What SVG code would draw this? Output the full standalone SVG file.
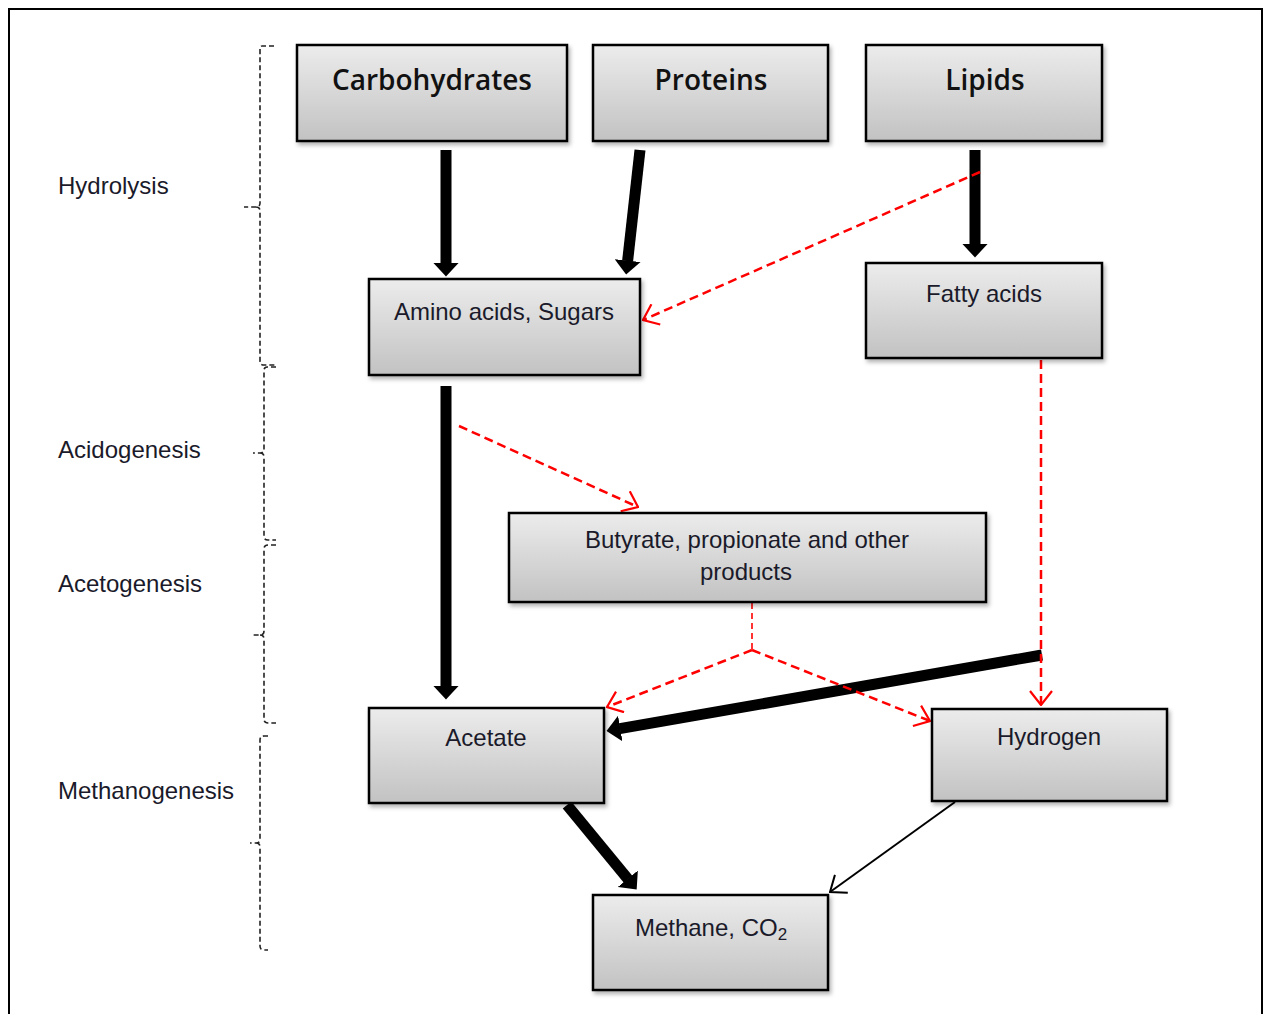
<svg xmlns="http://www.w3.org/2000/svg" width="1264" height="1014" viewBox="0 0 1264 1014">
<defs>
<linearGradient id="g" x1="0" y1="0" x2="0" y2="1">
<stop offset="0" stop-color="#ececec"/>
<stop offset="1" stop-color="#c2c2c2"/>
</linearGradient>
<filter id="sh" x="-10%" y="-10%" width="130%" height="130%">
<feDropShadow dx="2" dy="3" stdDeviation="2" flood-color="#000" flood-opacity="0.3"/>
</filter>
<marker id="blk" markerUnits="userSpaceOnUse" viewBox="0 0 14 26" refX="0.5" refY="13" markerWidth="14" markerHeight="26" orient="auto">
<path d="M0,0 L14,13 L0,26 Z" fill="#000"/>
</marker>
<marker id="red" markerUnits="userSpaceOnUse" viewBox="0 0 16 24" refX="15" refY="12" markerWidth="16" markerHeight="24" orient="auto">
<path d="M1,1 L15,12 L1,23" fill="none" stroke="#ff0000" stroke-width="2.2"/>
</marker>
<marker id="thin" markerUnits="userSpaceOnUse" viewBox="0 0 16 24" refX="15" refY="12" markerWidth="16" markerHeight="24" orient="auto">
<path d="M1,1 L15,12 L1,23" fill="none" stroke="#000" stroke-width="2"/>
</marker>
</defs>
<style>
.box{fill:url(#g);stroke:#000;stroke-width:2.5;filter:url(#sh)}
.big{font-family:"Open Sans","Noto Sans",sans-serif;font-size:28px;font-weight:600;fill:#111;text-anchor:middle}
.t{font-family:"Liberation Sans",Arial,sans-serif;font-size:24px;fill:#1a1a2a;text-anchor:middle}
.lab{font-family:"Liberation Sans",Arial,sans-serif;font-size:24px;fill:#1a1a2a}
.brace{fill:none;stroke:#222;stroke-width:1.6;stroke-dasharray:5,3}
.thick{stroke:#000;stroke-width:11;fill:none}
.dash{stroke:#ff0000;stroke-width:2.5;stroke-dasharray:9,5;fill:none}
</style>
<rect x="0" y="0" width="1264" height="1014" fill="#fff"/>
<path d="M9,1020 L9,9 L1262,9 L1262,1020" fill="none" stroke="#000" stroke-width="2"/>

<g id="labels">
<text class="lab" x="58" y="194">Hydrolysis</text>
<text class="lab" x="58" y="458">Acidogenesis</text>
<text class="lab" x="58" y="592">Acetogenesis</text>
<text class="lab" x="58" y="799">Methanogenesis</text>
</g>

<g id="braces">
<path class="brace" d="M274,46 L262,46 Q260,46 260,50 L260,203 Q260,207 256,207 L244,207 M256,207 Q260,207 260,211 L260,361 Q260,365 264,365 L276,365"/>
<path class="brace" d="M276,367 L267,367 Q264,367 264,371 L264,449 Q264,453 260,453 L253,453 M260,453 Q264,453 264,457 L264,536 Q264,540 268,540 L276,540"/>
<path class="brace" d="M276,545 L268,545 Q264,545 264,549 L264,631 Q264,635 260,635 L253,635 M260,635 Q264,635 264,639 L264,719 Q264,723 268,723 L276,723"/>
<path class="brace" d="M268,736 L264,736 Q260,736 260,740 L260,839 Q260,843 256,843 L250,843 M256,843 Q260,843 260,847 L260,946 Q260,950 264,950 L268,950"/>
</g>

<g id="connectors">
<line class="thick" x1="446" y1="150" x2="446" y2="263" marker-end="url(#blk)"/>
<line class="thick" x1="640" y1="150" x2="627.6" y2="261.1" marker-end="url(#blk)"/>
<line class="thick" x1="975" y1="150" x2="975" y2="244" marker-end="url(#blk)"/>
<line class="thick" x1="446" y1="386" x2="446" y2="686" marker-end="url(#blk)"/>
<line class="thick" x1="1042" y1="655" x2="619.8" y2="728.6" marker-end="url(#blk)"/>
<line class="thick" x1="567" y1="805" x2="628.1" y2="879.2" marker-end="url(#blk)"/>
<line x1="955" y1="802" x2="830" y2="892" stroke="#000" stroke-width="2" marker-end="url(#thin)"/>
<line class="dash" x1="980" y1="172" x2="643" y2="320" marker-end="url(#red)"/>
<line class="dash" x1="459" y1="426" x2="638" y2="507" marker-end="url(#red)"/>
<line class="dash" x1="1041" y1="360" x2="1041" y2="705" marker-end="url(#red)"/>
<path d="M752,603 L752,650" stroke="#ff0000" stroke-width="1.6" stroke-dasharray="6,4" fill="none"/>
<line class="dash" x1="752" y1="650" x2="607" y2="707" marker-end="url(#red)"/>
<line class="dash" x1="752" y1="650" x2="930" y2="721" marker-end="url(#red)"/>
</g>

<g id="carbohydrates"><rect class="box" x="297" y="45" width="270" height="96"/><text class="big" x="432" y="90">Carbohydrates</text></g>
<g id="proteins"><rect class="box" x="593" y="45" width="235" height="96"/><text class="big" x="711" y="90">Proteins</text></g>
<g id="lipids"><rect class="box" x="866" y="45" width="236" height="96"/><text class="big" x="985" y="90">Lipids</text></g>
<g id="amino"><rect class="box" x="369" y="279" width="271" height="96"/><text class="t" x="504" y="320">Amino acids, Sugars</text></g>
<g id="fatty"><rect class="box" x="866" y="263" width="236" height="95"/><text class="t" x="984" y="302">Fatty acids</text></g>
<g id="butyrate"><rect class="box" x="509" y="513" width="477" height="89"/><text class="t" x="747" y="548">Butyrate, propionate and other</text><text class="t" x="746" y="580">products</text></g>
<g id="acetate"><rect class="box" x="369" y="708" width="235" height="95"/><text class="t" x="486" y="746">Acetate</text></g>
<g id="hydrogen"><rect class="box" x="932" y="709" width="235" height="92"/><text class="t" x="1049" y="745">Hydrogen</text></g>
<g id="methane"><rect class="box" x="593" y="895" width="235" height="95"/><text class="t" x="711" y="936">Methane, CO<tspan font-size="17" dy="4">2</tspan></text></g>
</svg>
